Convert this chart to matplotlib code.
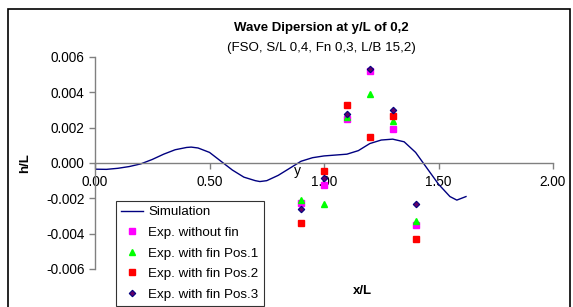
import matplotlib
matplotlib.use("Agg")
import matplotlib.pyplot as plt
from matplotlib.patches import Rectangle

plt.rcParams['font.family'] = ['Liberation Sans', 'DejaVu Sans']

# simulation curve
sim_x = [0.00, 0.05, 0.10, 0.15, 0.20, 0.25, 0.30, 0.35, 0.40, 0.42, 0.45, 0.50,
         0.55, 0.60, 0.65, 0.70, 0.72, 0.75, 0.80, 0.85, 0.90, 0.95, 1.00, 1.05,
         1.10, 1.15, 1.20, 1.25, 1.30, 1.35, 1.40, 1.45, 1.50, 1.55, 1.58, 1.60, 1.62]
sim_y = [-0.00035, -0.00036, -0.0003, -0.0002, -0.00005, 0.0002, 0.0005, 0.00075,
         0.00088, 0.0009, 0.00085, 0.0006, 0.0001, -0.0004, -0.0008, -0.001, -0.00105,
         -0.001, -0.0007, -0.0003, 0.0001, 0.0003, 0.0004, 0.00045, 0.0005, 0.0007,
         0.0011, 0.0013, 0.00135, 0.0012, 0.0006, -0.0003, -0.0012, -0.0019, -0.0021,
         -0.002, -0.0019]

# experiments
exp_x = [0.90, 1.00, 1.10, 1.20, 1.30, 1.40]
no_fin = [-0.00225, -0.00125, 0.0025, 0.0052, 0.0019, -0.0035]
fin_pos1 = [-0.0021, -0.0023, 0.0026, 0.0039, 0.0024, -0.0033]
fin_pos2 = [-0.0034, -0.00044, 0.0033, 0.00146, 0.00266, -0.0043]
fin_pos3 = [-0.0026, -0.00087, 0.0028, 0.0053, 0.0030, -0.0023]

x_ticks = [0.0, 0.5, 1.0, 1.5, 2.0]
y_ticks = [-0.006, -0.004, -0.002, 0.0, 0.002, 0.004, 0.006]

fig = plt.figure(figsize=(5.73, 3.07), dpi=100)
ax = fig.add_axes([95/573, 1-269/307, (553-95)/573, (269-57)/307])

ax.plot(sim_x, sim_y, color='#000080', lw=1.0, label='Simulation')
ax.plot(exp_x, no_fin, 's', color='#FF00FF', ms=4.0, mec='#FF00FF', label='Exp. without fin')
ax.plot(exp_x, fin_pos1, '^', color='#00FF00', ms=4.8, mec='#00FF00', label='Exp. with fin Pos.1')
ax.plot(exp_x, fin_pos2, 's', color='#FF0000', ms=4.0, mec='#FF0000', label='Exp. with fin Pos.2')
ax.plot(exp_x, fin_pos3, 'D', color='#660066', ms=3.3, mec='#000080', mew=0.8, label='Exp. with fin Pos.3')

ax.set_xlim(0, 2.0)
ax.set_ylim(-0.006, 0.006)
ax.set_xticks(x_ticks)
ax.set_xticklabels(['%.2f' % v for v in x_ticks])
ax.set_yticks(y_ticks)
ax.set_yticklabels(['%.3f' % v for v in y_ticks])

ax.spines['top'].set_visible(False)
ax.spines['right'].set_visible(False)
ax.spines['bottom'].set_position(('data', 0))
for s in ['left', 'bottom']:
    ax.spines[s].set_color('#808080')
    ax.spines[s].set_linewidth(1.0)
ax.tick_params(axis='both', colors='#808080', labelcolor='black', labelsize=9.8,
               direction='out', length=4, width=1)
ax.tick_params(axis='x', pad=5)
ax.patch.set_alpha(0)

ax.text(0.885, -0.00045, 'y', fontsize=10, ha='center', va='center')

leg = ax.legend(loc='upper left', bbox_to_anchor=(116/573, 1-200.7/307),
                bbox_transform=fig.transFigure, fontsize=9.6, frameon=True,
                fancybox=False, edgecolor='black', borderaxespad=0,
                labelspacing=0.62, handlelength=1.6, handletextpad=0.4,
                borderpad=0.4, numpoints=1)
leg.get_frame().set_linewidth(0.8)

fig.text(321/573, 1-28/307, 'Wave Dipersion at y/L of 0,2', fontsize=9.5,
         fontweight='bold', ha='center', va='center')
fig.text(321/573, 1-48/307, '(FSO, S/L 0,4, Fn 0,3, L/B 15,2)', fontsize=9.6,
         ha='center', va='center')
fig.text(25/573, 1-163/307, 'h/L', fontsize=9.5, fontweight='bold', rotation=90,
         ha='center', va='center')
fig.text(362/573, 1-291/307, 'x/L', fontsize=9.5, fontweight='bold',
         ha='center', va='center')

fig.patches.append(Rectangle((8/573, -0.05), (570-8)/573, 1.05-9/307,
                             transform=fig.transFigure, fill=False,
                             edgecolor='black', lw=1.2))

fig.savefig('out.png', dpi=100)
